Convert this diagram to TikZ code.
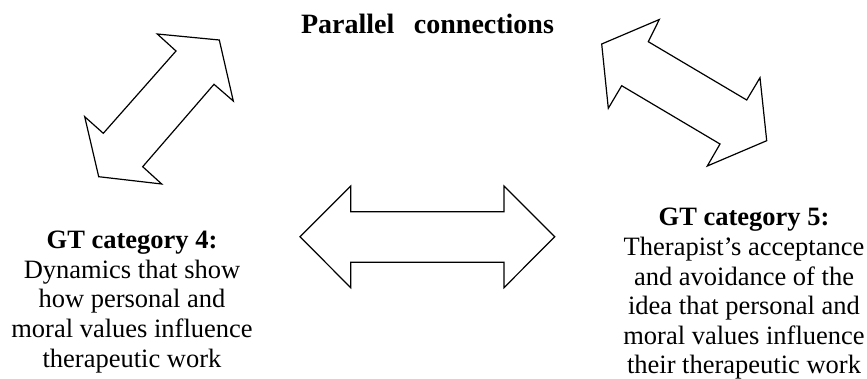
\documentclass[tikz,border=0pt]{standalone}
\usepackage{fontspec}
\setmainfont{Liberation Serif}
\usetikzlibrary{positioning}

\tikzset{
  blockarrow/.style={draw=black, line width=1.2pt, line join=miter, fill=white},
  cattext/.style={align=center, inner sep=0pt, font=\fontsize{26.5}{29.6}\selectfont}
}

\begin{document}
\begin{tikzpicture}[x=1pt,y=-1pt]
\useasboundingbox (0,0) rectangle (867,378);
\node[font=\fontsize{28}{30}\selectfont\bfseries, inner sep=0pt, anchor=base] (title) at (427.5,33) {Parallel\hspace{0.7em}connections};
% left diagonal arrow
\draw [blockarrow] (176,51) -- (157.3,34) -- (219.3,40) -- (233.3,101) -- (214,84.3)
	-- (142.7,166.7) -- (161.7,184) -- (98.7,176.7) -- (84.7,116.7) -- (103.3,133.3) -- cycle;
% right diagonal arrow
\draw [blockarrow] (648.3,41.7) -- (659.3,19.5) -- (601.7,44) -- (608.3,108.3) -- (621.7,85.7)
	-- (720,144) -- (707.3,166) -- (766.7,140.7) -- (760,77.7) -- (746.7,100) -- cycle;
% horizontal arrow
\draw [blockarrow] (300,236.7) -- (350.7,186) -- (350.7,211.7) -- (504,211.7) -- (504,186)
	-- (554.7,236.7) -- (504,287.7) -- (504,262.3) -- (350.7,262.3) -- (350.7,287.7) -- cycle;
\node[cattext] (cat4) at (132,302) {\textbf{GT category 4:}\\Dynamics that show\\how personal and\\moral values influence\\therapeutic work};
\node[cattext] (cat5) at (744,294) {\textbf{GT category 5:}\\Therapist’s acceptance\\and avoidance of the\\idea that personal and\\moral values influence\\their therapeutic work};
\end{tikzpicture}
\end{document}
